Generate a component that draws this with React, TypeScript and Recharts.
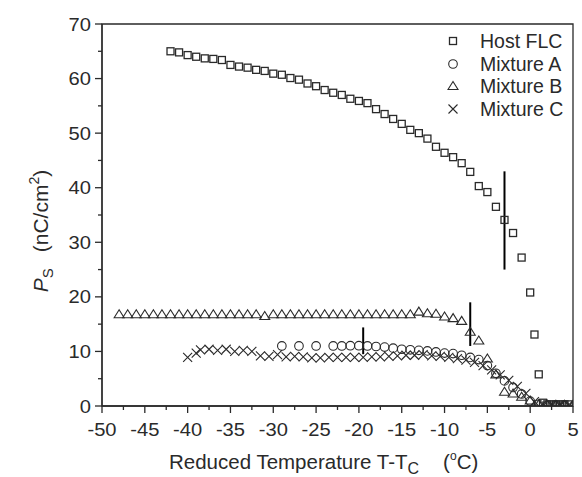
import React from 'react';
import { ScatterChart, Scatter, XAxis, YAxis, ReferenceLine, ReferenceArea, Legend } from 'recharts';

const INK = '#2a2a2a';
const FONT = '"Liberation Sans", Arial, sans-serif';

// Host FLC
const hostT = [-42, -41, -40, -39, -38, -37, -36, -35, -34, -33, -32, -31, -30, -29, -28, -27, -26, -25, -24, -23, -22, -21, -20, -19, -18, -17, -16, -15, -14, -13, -12, -11, -10, -9, -8, -7, -6, -5, -4, -3, -2, -1, 0, 0.5, 1, 1.5, 2, 2.5, 3, 3.5, 4, 4.5];
const hostP = [65.0, 64.8, 64.3, 64.0, 63.7, 63.6, 63.4, 62.5, 62.2, 62.0, 61.6, 61.4, 60.9, 60.7, 60.1, 59.8, 59.1, 58.6, 57.9, 57.4, 57.0, 56.3, 55.9, 55.5, 54.4, 53.5, 52.6, 51.7, 50.6, 50.0, 49.0, 47.5, 46.4, 45.6, 44.5, 42.9, 40.3, 39.2, 36.5, 34.1, 31.7, 27.2, 20.8, 13.1, 5.8, 0.6, 0.3, 0.3, 0.3, 0.3, 0.3, 0.3];

// Mixture A
const mixAT = [-29, -27, -25, -23, -22, -21, -20, -19, -18, -17, -16, -15, -14, -13, -12, -11, -10, -9, -8, -7, -6, -5, -4, -3, -2, -1, 0, 1, 2, 3, 4];
const mixAP = [11.0, 11.0, 11.0, 11.0, 11.0, 11.05, 11.05, 11.0, 10.9, 10.8, 10.6, 10.4, 10.3, 10.2, 10.1, 9.9, 9.7, 9.6, 9.3, 8.9, 8.5, 7.4, 6.0, 4.6, 3.4, 2.2, 0.9, 0.3, 0.1, 0.1, 0.1];

// Mixture B
const mixBT = [-48, -47, -46, -45, -44, -43, -42, -41, -40, -39, -38, -37, -36, -35, -34, -33, -32, -31, -30, -29, -28, -27, -26, -25, -24, -23, -22, -21, -20, -19, -18, -17, -16, -15, -14, -13, -12, -11, -10, -9, -8, -7, -6, -5, -4, -3, -2, -1, 0, 1, 2, 3, 4, 5];
const mixBP = [16.8, 16.8, 16.8, 16.8, 16.8, 16.8, 16.8, 16.8, 16.8, 16.8, 16.8, 16.8, 16.8, 16.8, 16.8, 16.8, 16.8, 16.5, 16.8, 16.8, 16.8, 16.8, 16.8, 16.8, 16.8, 16.8, 16.8, 16.8, 16.8, 16.8, 16.8, 16.8, 16.8, 16.8, 16.8, 17.3, 17.0, 16.9, 16.4, 16.1, 15.6, 13.6, 12.0, 8.7, 5.8, 2.6, 2.3, 1.7, 1.0, 0.3, 0.2, 0.2, 0.2, 0.2];

// Mixture C
const mixCT = [-40, -39, -38.5, -37.5, -36.5, -35.5, -34.5, -33.5, -32.5, -31.5, -30.5, -29.5, -28.5, -27.5, -26.5, -25.5, -24.5, -23.5, -22.5, -21.5, -20.5, -19.5, -18.5, -17.5, -16.5, -15.5, -14.5, -13.5, -12.5, -11.5, -10.5, -9.5, -8.5, -7.5, -6.5, -5.5, -4.5, -3.5, -2.5, -1.5, -0.5, 0.5, 1.5, 2.5, 3.5, 4.5];
const mixCP = [8.9, 9.7, 10.3, 10.4, 10.2, 10.4, 10.0, 10.2, 10.0, 9.2, 9.1, 9.4, 9.0, 9.1, 9.0, 8.8, 8.8, 8.9, 8.9, 8.9, 8.9, 8.9, 9.0, 9.0, 9.1, 9.2, 9.3, 9.3, 9.4, 9.2, 9.1, 8.9, 8.7, 8.4, 8.0, 7.4, 6.6, 5.7, 4.7, 3.6, 2.3, 0.8, 0.3, 0.2, 0.2, 0.2];

// vertical marks (T, from, to)
const barT = [-3, -7, -19.5];
const barLow = [25, 11, 9.5];
const barHigh = [43, 19, 14.4];

const xMajor = [-50, -45, -40, -35, -30, -25, -20, -15, -10, -5, 0, 5];
const xMinor = [-47.5, -42.5, -37.5, -32.5, -27.5, -22.5, -17.5, -12.5, -7.5, -2.5, 2.5];
const yMajor = [0, 10, 20, 30, 40, 50, 60, 70];
const yMinor = [5, 15, 25, 35, 45, 55, 65];

const seriesNames = ['Host FLC', 'Mixture A', 'Mixture B', 'Mixture C'];

const toPts = (t: number[], p: number[]) => t.map((x, i) => ({ x, y: p[i] }));

const Square = ({ cx, cy }: any) => (
  <rect x={cx - 3.5} y={cy - 3.5} width={7} height={7} fill="none" stroke={INK} strokeWidth={1.3} />
);
const Circle = ({ cx, cy }: any) => (
  <circle cx={cx} cy={cy} r={4.3} fill="none" stroke={INK} strokeWidth={1.1} />
);
const Triangle = ({ cx, cy }: any) => (
  <path d={`M${cx - 5},${cy + 3.5} L${cx},${cy - 4.5} L${cx + 5},${cy + 3.5} Z`} fill="none" stroke={INK} strokeWidth={1.1} />
);
const Cross = ({ cx, cy }: any) => (
  <path d={`M${cx - 4.5},${cy - 4.5} L${cx + 4.5},${cy + 4.5} M${cx - 4.5},${cy + 4.5} L${cx + 4.5},${cy - 4.5}`} stroke={INK} strokeWidth={1.1} />
);
const shapes = [Square, Circle, Triangle, Cross];

// the source figure is a little stretched sideways, so the tick text is too
const XTick = ({ x, y, payload }: any) => {
  const major = xMajor.includes(payload.value);
  return (
    <g>
      <line x1={x} y1={y} x2={x} y2={y + (major ? 7 : 4)} stroke={INK} strokeWidth={1.3} />
      {major && (
        <text transform={`translate(${x},${y + 30}) scale(1.12,1)`} textAnchor="middle" fontSize={18} fill={INK} fontFamily={FONT}>
          {payload.value}
        </text>
      )}
    </g>
  );
};

const YTick = ({ x, y, payload }: any) => {
  const major = yMajor.includes(payload.value);
  return (
    <g>
      <line x1={x} y1={y} x2={x - (major ? 7 : 4)} y2={y} stroke={INK} strokeWidth={1.3} />
      {major && (
        <text transform={`translate(${x - 11},${y + 6.5}) scale(1.12,1)`} textAnchor="end" fontSize={18} fill={INK} fontFamily={FONT}>
          {payload.value}
        </text>
      )}
    </g>
  );
};

const YLabel = ({ viewBox }: any) => {
  const cx = viewBox.x + 6;
  const cy = viewBox.y + viewBox.height / 2 + 16;
  return (
    <text x={cx} y={cy} transform={`rotate(-90 ${cx} ${cy})`} textAnchor="middle" fontSize={21} fill={INK} fontFamily={FONT}>
      <tspan fontStyle="italic">P</tspan>
      <tspan fontSize={15} dy={5}>S</tspan>
      <tspan dy={-5} dx={16}>(nC/cm</tspan>
      <tspan fontSize={14} dy={-9}>2</tspan>
      <tspan dy={9}>)</tspan>
    </text>
  );
};

const XLabel = ({ viewBox }: any) => {
  const x = viewBox.x + 67;
  const y = viewBox.y + 63;
  return (
    <text x={x} y={y} textAnchor="start" fontSize={20.5} fill={INK} fontFamily={FONT}>
      <tspan>Reduced Temperature T-T</tspan>
      <tspan fontSize={16} dy={5}>C</tspan>
      <tspan dy={-5} dx={24}>(</tspan>
      <tspan fontSize={12} dy={-9}>o</tspan>
      <tspan dy={9}>C)</tspan>
    </text>
  );
};

const LegendBox = () => (
  <div style={{ fontFamily: FONT, fontSize: 19.5, color: INK, lineHeight: '22.5px' }}>
    {seriesNames.map((name, i) => {
      const Shape = shapes[i];
      return (
        <div key={name} style={{ display: 'flex', alignItems: 'center', height: 22.5 }}>
          <svg width={26} height={22} style={{ marginRight: 14 }}>
            <Shape cx={13} cy={11} />
          </svg>
          <span>{name}</span>
        </div>
      );
    })}
  </div>
);

export default function App() {
  const data = [toPts(hostT, hostP), toPts(mixAT, mixAP), toPts(mixBT, mixBP), toPts(mixCT, mixCP)];
  return (
    <div style={{ position: 'absolute', left: 0, top: 0, background: '#fff' }}>
      <ScatterChart width={582} height={477} margin={{ top: 24, right: 9, bottom: 41, left: 42 }}>
        <XAxis
          type="number"
          dataKey="x"
          domain={[-50, 5]}
          ticks={[...xMajor, ...xMinor].sort((a, b) => a - b)}
          interval={0}
          tick={<XTick />}
          tickLine={false}
          tickSize={0}
          tickMargin={0}
          height={30}
          stroke={INK}
          strokeWidth={1.3}
          allowDataOverflow
          label={<XLabel />}
        />
        <YAxis
          type="number"
          dataKey="y"
          domain={[0, 70]}
          ticks={[...yMajor, ...yMinor].sort((a, b) => a - b)}
          interval={0}
          tick={<YTick />}
          tickLine={false}
          tickSize={0}
          tickMargin={0}
          width={60}
          stroke={INK}
          strokeWidth={1.3}
          allowDataOverflow
          label={<YLabel />}
        />
        <ReferenceArea x1={-50} x2={5} y1={0} y2={70} fill="none" stroke={INK} strokeWidth={1.3} />
        {barT.map((t, i) => (
          <ReferenceLine key={i} segment={[{ x: t, y: barLow[i] }, { x: t, y: barHigh[i] }]} stroke="#000" strokeWidth={2} />
        ))}
        {data.map((d, i) => (
          <Scatter key={seriesNames[i]} name={seriesNames[i]} data={d} shape={shapes[i]} isAnimationActive={false} />
        ))}
        <Legend
          layout="vertical"
          align="center"
          verticalAlign="middle"
          wrapperStyle={{ left: 440, top: 30, width: 140 }}
          content={<LegendBox />}
        />
      </ScatterChart>
    </div>
  );
}
